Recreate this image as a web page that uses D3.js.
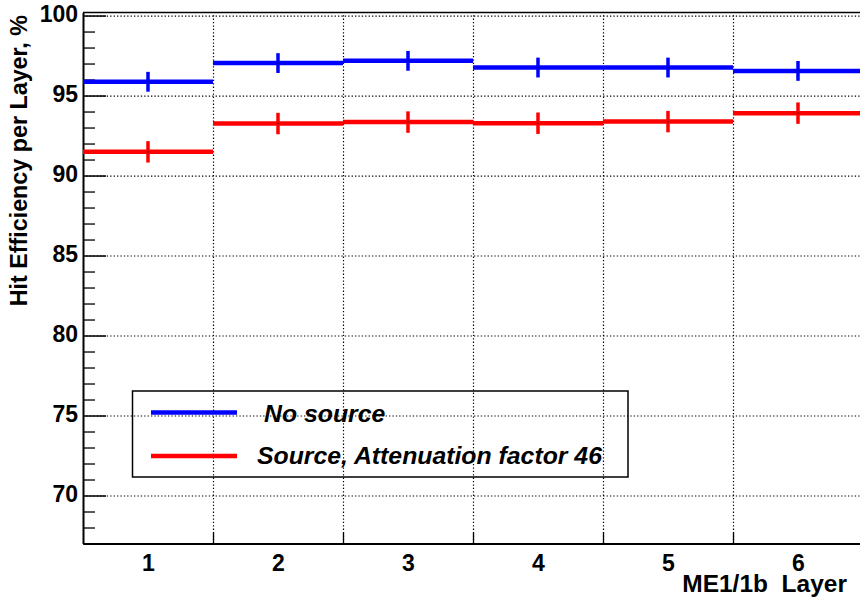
<!DOCTYPE html>
<html>
<head>
<meta charset="utf-8">
<script src="https://cdn.jsdelivr.net/npm/d3@7"></script>
<style>
  html, body { margin: 0; padding: 0; background: #fff; }
  svg { display: block; }
  text { font-family: "Liberation Sans", Arial, Helvetica, sans-serif; font-weight: bold; fill: #000; }
</style>
</head>
<body>
<svg id="chart" width="860" height="599"></svg>
<script>
// Layers of the ME1/1b chamber (one bin per layer)
const layers = [1, 2, 3, 4, 5, 6];
// Hit efficiency per layer, %
const noSource = [95.86, 97.03, 97.17, 96.75, 96.75, 96.54];
const noSourceErr = [0.62, 0.62, 0.62, 0.62, 0.62, 0.62];
const withSource = [91.48, 93.25, 93.34, 93.27, 93.37, 93.90];
const withSourceErr = [0.67, 0.67, 0.67, 0.67, 0.67, 0.67];
const seriesNames = ["No source", "Source, Attenuation factor 46"];
const seriesColors = ["#0000ff", "#ff0000"];
const yMajorTicks = [70, 75, 80, 85, 90, 95, 100];
const yTitle = "Hit Efficiency per Layer, %";
const xTitle = "ME1/1b  Layer";

const svg = d3.select("#chart");
const margin = { left: 83, top: 12.5, right: -3, bottom: 55.5 };
const W = 860, H = 599;
const plotW = W - margin.left - margin.right;
const plotH = H - margin.top - margin.bottom;

const x = d3.scaleLinear().domain([0.5, 6.5]).range([0, plotW]);
const y = d3.scaleLinear().domain([67, 100.19]).range([plotH, 0]);

const g = svg.append("g").attr("transform", `translate(${margin.left},${margin.top})`);

const binEdges = d3.range(1.5, 6.5, 1);
const yMinor = d3.range(67, 101).filter(v => v % 5 !== 0);
const labelFont = '"Liberation Sans", Arial, sans-serif';

// dotted grid
const gridY = g.append("g").attr("class", "grid")
  .call(d3.axisLeft(y).tickValues(yMajorTicks).tickSize(-plotW).tickFormat(""));
const gridX = g.append("g").attr("class", "grid")
  .attr("transform", `translate(0,${plotH})`)
  .call(d3.axisBottom(x).tickValues(binEdges).tickSize(-plotH).tickFormat(""));
[gridY, gridX].forEach(s => {
  s.select(".domain").remove();
  s.selectAll("line").attr("stroke", "#000").attr("stroke-width", 1.2)
    .attr("stroke-dasharray", "1.3,2.1");
});

// frame top
g.append("line").attr("x1", 0).attr("x2", plotW).attr("y1", 0).attr("y2", 0)
  .attr("stroke", "#000").attr("stroke-width", 1.5);

// y axis: minor ticks, major ticks with labels
const yMin = g.append("g")
  .call(d3.axisLeft(y).tickValues(yMinor).tickSize(-12).tickFormat(""));
yMin.select(".domain").remove();
yMin.selectAll("line").attr("stroke", "#000").attr("stroke-width", 1.3);

const yAx = g.append("g")
  .call(d3.axisLeft(y).tickValues(yMajorTicks).tickSize(-23).tickPadding(5).tickSizeOuter(0));
yAx.select(".domain").attr("stroke", "#000").attr("stroke-width", 2);
yAx.selectAll("line").attr("stroke", "#000").attr("stroke-width", 1.5);
yAx.selectAll("text").attr("font-size", 23).attr("dy", "0.27em")
  .style("font-family", labelFont).style("font-weight", "bold");

// x axis: ticks at bin edges, labels at bin centres
const xEdge = g.append("g").attr("transform", `translate(0,${plotH})`)
  .call(d3.axisBottom(x).tickValues(binEdges).tickSize(-11).tickFormat("").tickSizeOuter(0));
xEdge.select(".domain").attr("stroke", "#000").attr("stroke-width", 2);
xEdge.selectAll("line").attr("stroke", "#000").attr("stroke-width", 1.3);

const xLab = g.append("g").attr("transform", `translate(0,${plotH})`)
  .call(d3.axisBottom(x).tickValues(layers).tickFormat(d3.format("d")).tickSize(0).tickPadding(11));
xLab.select(".domain").remove();
xLab.selectAll("text").attr("font-size", 23)
  .style("font-family", labelFont).style("font-weight", "bold");

// axis titles
svg.append("text")
  .attr("transform", "translate(27,15) rotate(-90)")
  .attr("text-anchor", "end")
  .attr("font-size", 23.3)
  .text(yTitle);

svg.append("text")
  .attr("x", 847).attr("y", 592)
  .attr("text-anchor", "end")
  .attr("font-size", 24.5)
  .style("white-space", "pre")
  .text(xTitle);

// histogram series: horizontal bin line + vertical error bar
const series = [
  { name: seriesNames[0], vals: noSource, errs: noSourceErr, color: seriesColors[0] },
  { name: seriesNames[1], vals: withSource, errs: withSourceErr, color: seriesColors[1] }
];

series.forEach(s => {
  const sg = g.append("g");
  const data = layers.map((l, i) => ({ l, v: s.vals[i], e: s.errs[i] }));
  sg.selectAll("line.bin").data(data).join("line").attr("class", "bin")
    .attr("x1", d => x(d.l - 0.5)).attr("x2", d => x(d.l + 0.5))
    .attr("y1", d => y(d.v)).attr("y2", d => y(d.v))
    .attr("stroke", s.color).attr("stroke-width", 4.5);
  sg.selectAll("line.err").data(data).join("line").attr("class", "err")
    .attr("x1", d => x(d.l)).attr("x2", d => x(d.l))
    .attr("y1", d => y(d.v - d.e)).attr("y2", d => y(d.v + d.e))
    .attr("stroke", s.color).attr("stroke-width", 3.5);
  sg.selectAll("rect.pt").data(data).join("rect").attr("class", "pt")
    .attr("x", d => x(d.l) - 0.5).attr("y", d => y(d.v) - 0.5)
    .attr("width", 1).attr("height", 1).attr("fill", "#000");
});

// legend
const lg = svg.append("g");
lg.append("rect").attr("x", 132.5).attr("y", 391).attr("width", 495.5).attr("height", 86)
  .attr("fill", "none").attr("stroke", "#000").attr("stroke-width", 1.5);
const legendRows = [
  { y: 412.5, tx: 264, ty: 422 },
  { y: 456, tx: 257, ty: 463.5 }
];
series.forEach((s, i) => {
  const r = legendRows[i];
  lg.append("line").attr("x1", 151).attr("x2", 237).attr("y1", r.y).attr("y2", r.y)
    .attr("stroke", s.color).attr("stroke-width", 4.5);
  lg.append("text").attr("x", r.tx).attr("y", r.ty)
    .attr("font-size", 24.8).style("font-style", "italic")
    .text(s.name);
});
</script>
</body>
</html>
